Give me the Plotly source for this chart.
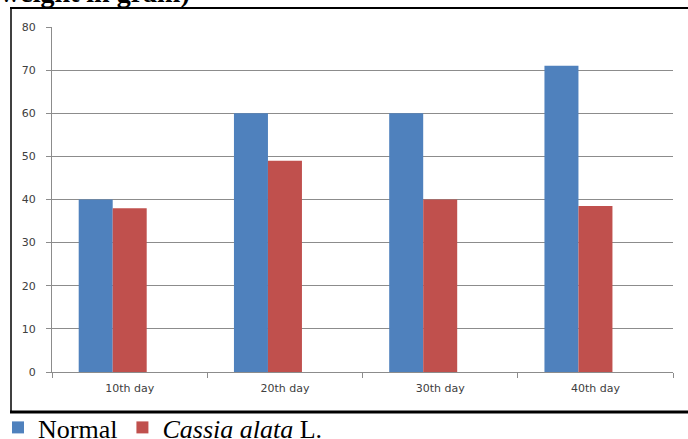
import plotly.graph_objects as go

categories = ["10th day", "20th day", "30th day", "40th day"]
normal_values = [40, 60, 60, 71]
cassia_values = [38, 49, 40, 38.5]
y_ticks = [0, 10, 20, 30, 40, 50, 60, 70, 80]
series_names = ["Normal", "<i>Cassia alata</i> L."]

W, H = 688, 439
L, R, T, B = 52, 15, 27, 67
pw, ph = W - L - R, H - T - B

def px_x(x):
    return (x - L) / pw

def px_y(y):
    return (H - B - y) / ph

fig = go.Figure()
fig.add_trace(go.Bar(x=categories, y=normal_values, name=series_names[0],
                     marker=dict(color="#4F81BD", line=dict(width=0)),
                     width=0.219, offset=-0.328))
fig.add_trace(go.Bar(x=categories, y=cassia_values, name=series_names[1],
                     marker=dict(color="#C0504D", line=dict(width=0)),
                     width=0.219, offset=-0.109))

fig.update_layout(
    width=W, height=H,
    margin=dict(l=L, r=R, t=T, b=B, pad=0, autoexpand=False),
    paper_bgcolor="white", plot_bgcolor="white",
    showlegend=True,
    legend=dict(orientation="h", x=px_x(-2), xanchor="left", y=px_y(404), yanchor="top",
                font=dict(family="Liberation Serif", size=26, color="black"),
                bgcolor="rgba(0,0,0,0)", borderwidth=0, traceorder="normal",
                itemclick=False, tracegroupgap=0),
    font=dict(family="DejaVu Sans", size=11, color="#404040"),
    xaxis=dict(type="category", showgrid=False, showline=True, linecolor="#8c8c8c", linewidth=1,
               ticks="outside", tickson="boundaries", ticklen=5, tickcolor="#8c8c8c",
               ticklabelstandoff=6, fixedrange=True,
               tickfont=dict(family="DejaVu Sans", size=11, color="#404040")),
    yaxis=dict(range=[0, 80], tickvals=y_ticks, showgrid=True, gridcolor="#8c8c8c", gridwidth=1,
               showline=True, linecolor="#8c8c8c", linewidth=1, zeroline=False,
               ticks="outside", ticklen=5, tickcolor="#8c8c8c", ticklabelstandoff=8,
               fixedrange=True,
               tickfont=dict(family="DejaVu Sans", size=11, color="#404040")),
    shapes=[
        dict(type="line", xref="paper", yref="paper", x0=px_x(10), x1=px_x(700),
             y0=px_y(8), y1=px_y(8), line=dict(color="black", width=2)),
        dict(type="line", xref="paper", yref="paper", x0=px_x(11), x1=px_x(11),
             y0=px_y(8), y1=px_y(412), line=dict(color="black", width=1.5)),
        dict(type="line", xref="paper", yref="paper", x0=px_x(10), x1=px_x(700),
             y0=px_y(412), y1=px_y(412), line=dict(color="black", width=3)),
    ],
    annotations=[
        dict(text="<b>weight in gram)</b>", xref="paper", yref="paper",
             x=px_x(-2), y=px_y(-8), xanchor="left", yanchor="middle", showarrow=False,
             font=dict(family="Liberation Serif", size=28, color="black")),
    ],
)

fig.write_html("out.html", config={"displayModeBar": False, "staticPlot": True},
               post_script="document.body.style.margin='0';document.body.style.overflow='hidden';")
